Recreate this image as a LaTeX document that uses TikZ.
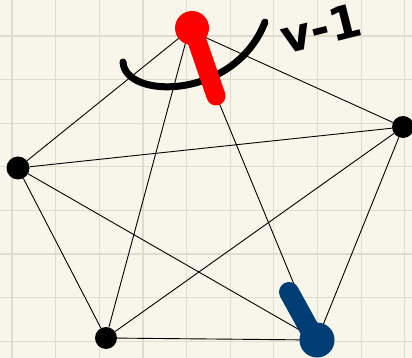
\documentclass[tikz,border=0pt]{standalone}
\usepackage{fontspec}
\newfontfamily\handfont{DejaVu Sans}
\definecolor{paper}{HTML}{F8F6EA}
\definecolor{gridc}{HTML}{DDDCCD}
\definecolor{pinred}{HTML}{FF0000}
\definecolor{pinblue}{HTML}{003D75}
\tikzset{
  edge/.style={black, line width=0.9pt},
  vdot/.style={circle, fill=black, inner sep=0pt, minimum size=23pt},
  pin/.style={line width=19pt, line cap=round},
}
\begin{document}
\begin{tikzpicture}[x=1pt,y=-1pt]
\fill[paper] (0,0) rectangle (412,358);
\useasboundingbox (0,0) rectangle (412,358);
\foreach \i in {0,...,9} { \draw[gridc, line width=1.1pt] ({12+43.65*\i},0) -- ({12+43.65*\i},358); }
\foreach \j in {0,...,7} { \draw[gridc, line width=1.1pt] (0,{36+43.6*\j}) -- (412,{36+43.6*\j}); }
% vertices
\coordinate (T) at (189,30);
\node[vdot] (L) at (18,168) {};
\node[vdot, minimum size=22pt] (R) at (403,127) {};
\node[vdot, minimum size=22pt] (BL) at (106,338) {};
\coordinate (BR) at (317,340);
% edges
\draw[edge] (T) -- (L);
\draw[edge] (T) -- (R);
\draw[edge] (T) -- (BL);
\draw[edge] (T) -- (BR);
\draw[edge] (L) -- (R);
\draw[edge] (L) -- (BL);
\draw[edge] (L) -- (BR);
\draw[edge] (R) -- (BL);
\draw[edge] (R) -- (BR);
\draw[edge] (BL) -- (BR);
% arc
\draw[black, line width=7pt, line cap=round] (123,62) .. controls (125,100) and (235,100) .. (265,22);
% red pin
\draw[pinred, pin] (196,38) -- (216,96);
\fill[pinred] (192,28) circle (17);
% blue pin
\draw[pinblue, pin, line width=20pt] (289,292) -- (311,332);
\fill[pinblue] (317,340) circle (17.5);
% label
\node[font=\handfont\bfseries\fontsize{46}{46}\selectfont, rotate=14, inner sep=0pt] (lab) at (321,28) {v-1};
\end{tikzpicture}
\end{document}
